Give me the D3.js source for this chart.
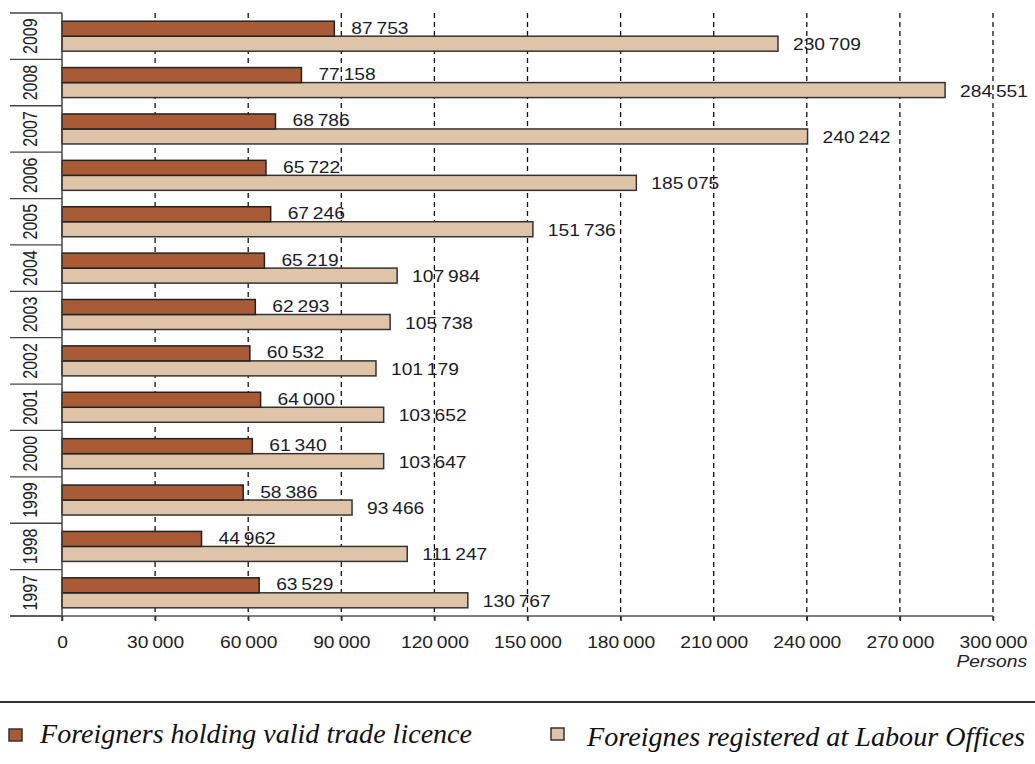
<!DOCTYPE html>
<html>
<head>
<meta charset="utf-8">
<script src="https://cdn.jsdelivr.net/npm/d3@7"></script>
<style>
  body { margin: 0; background: #fff; }
  svg { display: block; }
</style>
</head>
<body>
<svg id="chart" width="1035" height="764"></svg>
<script>
const years = ['2009', '2008', '2007', '2006', '2005', '2004', '2003', '2002', '2001', '2000', '1999', '1998', '1997'];
const tradeLicence = [87753, 77158, 68786, 65722, 67246, 65219, 62293, 60532, 64000, 61340, 58386, 44962, 63529];
const labourOffices = [230709, 284551, 240242, 185075, 151736, 107984, 105738, 101179, 103652, 103647, 93466, 111247, 130767];
const xTicks = [0, 30000, 60000, 90000, 120000, 150000, 180000, 210000, 240000, 270000, 300000];
const seriesNames = ['Foreigners holding valid trade licence', 'Foreignes registered at Labour Offices'];
const colors = ['#A95B36', '#DFC4AA'];

const svg = d3.select('#chart');
const plotL = 62, plotR = 993, plotT = 13, plotB = 616;
const sans = 'Liberation Sans, Arial, sans-serif';

const fmt = d3.formatLocale({ decimal: ',', thousands: '\u2009', grouping: [3], currency: ['', ''] }).format(',d');

// the source picture is a bit wider than it is tall, so stretch text horizontally
function widen(k) {
  return function () {
    const w = this.getComputedTextLength();
    this.setAttribute('textLength', w * k);
    this.setAttribute('lengthAdjust', 'spacingAndGlyphs');
  };
}

const x = d3.scaleLinear().domain([0, 300000]).range([plotL, plotR]);
const y = d3.scaleBand().domain(years).range([plotT, plotB]).paddingInner(0).paddingOuter(0);
const bandH = y.bandwidth();
const barH = 15;
const groupOff = (bandH - 2 * barH) / 2;

// dashed grid
svg.append('g')
  .selectAll('line')
  .data(xTicks.slice(1))
  .join('line')
  .attr('x1', d => x(d)).attr('x2', d => x(d))
  .attr('y1', plotT).attr('y2', plotB + 4)
  .attr('stroke', '#111')
  .attr('stroke-width', 1.3)
  .attr('stroke-dasharray', '5,4');

// category separators on the left
svg.append('g')
  .selectAll('line')
  .data(years.concat(['end']))
  .join('line')
  .attr('x1', 10).attr('x2', plotL)
  .attr('y1', (d, i) => i < years.length ? y(d) : plotB)
  .attr('y2', (d, i) => i < years.length ? y(d) : plotB)
  .attr('stroke', '#444')
  .attr('stroke-width', 1.3);

// year labels
svg.append('g')
  .selectAll('text')
  .data(years)
  .join('text')
  .attr('transform', d => `translate(37,${y(d) + bandH / 2}) rotate(-90) scale(1,1.22)`)
  .attr('text-anchor', 'middle')
  .attr('font-family', sans)
  .attr('font-size', 16)
  .attr('fill', '#222')
  .text(d => d);

const rows = years.map((yr, i) => ({ yr, a: tradeLicence[i], b: labourOffices[i] }));

// bars
const barG = svg.append('g');
barG.selectAll('rect.b')
  .data(rows)
  .join('rect')
  .attr('class', 'b')
  .attr('x', x(0))
  .attr('y', d => y(d.yr) + groupOff + barH)
  .attr('width', d => x(d.b) - x(0))
  .attr('height', barH)
  .attr('fill', colors[1])
  .attr('stroke', '#333')
  .attr('stroke-width', 1.5);
barG.selectAll('rect.a')
  .data(rows)
  .join('rect')
  .attr('class', 'a')
  .attr('x', x(0))
  .attr('y', d => y(d.yr) + groupOff)
  .attr('width', d => x(d.a) - x(0))
  .attr('height', barH)
  .attr('fill', colors[0])
  .attr('stroke', '#222')
  .attr('stroke-width', 1.5);

// value labels
const lbl = svg.append('g')
  .attr('font-family', sans)
  .attr('font-size', 16)
  .attr('fill', '#1b1b2b');
lbl.selectAll('text.a')
  .data(rows)
  .join('text')
  .attr('class', 'a')
  .attr('x', d => x(d.a) + 17)
  .attr('y', d => y(d.yr) + groupOff + 12.5)
  .text(d => fmt(d.a))
  .each(widen(1.2));
lbl.selectAll('text.b')
  .data(rows)
  .join('text')
  .attr('class', 'b')
  .attr('x', d => x(d.b) + 15)
  .attr('y', d => y(d.yr) + groupOff + barH + 14)
  .text(d => fmt(d.b))
  .each(widen(1.2));

// axes lines
svg.append('line')
  .attr('x1', plotL).attr('x2', plotL).attr('y1', plotT).attr('y2', plotB + 5)
  .attr('stroke', '#444').attr('stroke-width', 1.5);
svg.append('line')
  .attr('x1', 10).attr('x2', plotR).attr('y1', plotB).attr('y2', plotB)
  .attr('stroke', '#555').attr('stroke-width', 1.5);

// x axis
const xAxis = svg.append('g')
  .attr('transform', `translate(0,${plotB})`)
  .call(d3.axisBottom(x).tickValues(xTicks).tickFormat(fmt).tickSize(5));
xAxis.select('.domain').remove();
xAxis.selectAll('.tick line').attr('stroke', '#333').attr('stroke-width', 1.5);
xAxis.selectAll('text')
  .attr('font-family', sans)
  .attr('font-size', 16)
  .attr('fill', '#222')
  .attr('y', 32)
  .attr('dy', 0)
  .each(widen(1.2));

svg.append('text')
  .attr('x', 1027).attr('y', 667)
  .attr('text-anchor', 'end')
  .attr('font-family', sans)
  .attr('font-style', 'italic')
  .attr('font-size', 16)
  .attr('fill', '#222')
  .text('Persons')
  .each(widen(1.2));

// separator above legend
svg.append('line')
  .attr('x1', 0).attr('x2', 1035).attr('y1', 702).attr('y2', 702)
  .attr('stroke', '#333').attr('stroke-width', 2);

// legend
const legendPos = [
  { sx: 9, sy: 729, tx: 40, ty: 743, w: 432 },
  { sx: 551, sy: 728, tx: 587, ty: 746, w: 438 }
];
const leg = svg.append('g')
  .selectAll('g')
  .data(seriesNames)
  .join('g');
leg.append('rect')
  .attr('x', (d, i) => legendPos[i].sx)
  .attr('y', (d, i) => legendPos[i].sy)
  .attr('width', 13).attr('height', 12)
  .attr('fill', (d, i) => colors[i])
  .attr('stroke', '#333').attr('stroke-width', 1.5);
leg.append('text')
  .attr('x', (d, i) => legendPos[i].tx)
  .attr('y', (d, i) => legendPos[i].ty)
  .attr('font-family', 'Liberation Serif, Times New Roman, serif')
  .attr('font-style', 'italic')
  .attr('font-size', 27)
  .attr('fill', '#111')
  .attr('textLength', (d, i) => legendPos[i].w)
  .attr('lengthAdjust', 'spacingAndGlyphs')
  .text(d => d);
</script>
</body>
</html>
